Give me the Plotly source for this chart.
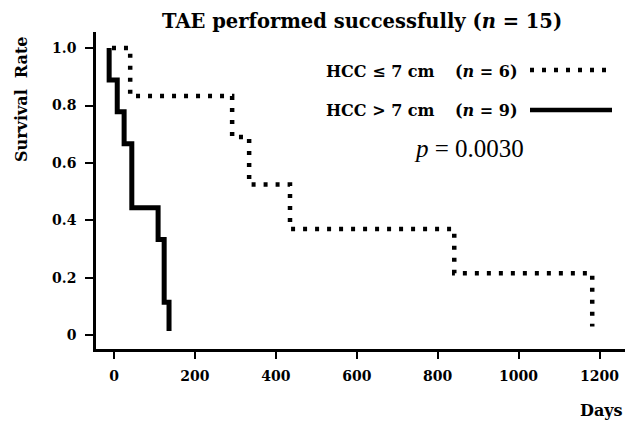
import plotly.graph_objects as go

# Kaplan-Meier step points (days, survival)
small_days = [-5, 40, 292, 334, 435, 841, 1182]
small_surv = [1.0, 0.833, 0.69, 0.525, 0.37, 0.216, 0.03]

large_days = [-12, -12, 8, 25, 44, 109, 124, 136]
large_surv = [1.0, 0.889, 0.778, 0.667, 0.444, 0.333, 0.115, 0.015]

x_ticks = [0, 200, 400, 600, 800, 1000, 1200]
y_ticks = [0, 0.2, 0.4, 0.6, 0.8, 1.0]
y_ticklabels = ["0", "0.2", "0.4", "0.6", "0.8", "1.0"]

W, H = 628, 422
L, R, T, B = 96, 3, 32, 73
PW, PH = W - L - R, H - T - B

def px(x):
    return (x - L) / PW

def py(y):
    return (H - B - y) / PH

FONT = "DejaVu Serif"
PFONT = "Liberation Serif"
DOT = "4px,8px"

fig = go.Figure()
fig.add_trace(go.Scatter(x=small_days, y=small_surv, mode="lines", line_shape="hv",
                         line=dict(color="black", width=4.5, dash=DOT), showlegend=False))
fig.add_trace(go.Scatter(x=large_days, y=large_surv, mode="lines", line_shape="hv",
                         line=dict(color="black", width=5), showlegend=False))

fig.update_layout(
    width=W, height=H,
    margin=dict(l=L, r=R, t=T, b=B, autoexpand=False),
    plot_bgcolor="white", paper_bgcolor="white",
    font=dict(family=FONT, color="black"),
    xaxis=dict(range=[-44.5, 1263], showgrid=False, zeroline=False, showline=True,
               linecolor="black", linewidth=2.5, ticks="outside", ticklen=7, tickwidth=2,
               tickcolor="black", tickvals=x_ticks, ticklabelstandoff=5,
               tickfont=dict(family=FONT, size=14, color="black", weight="bold")),
    yaxis=dict(range=[-0.048, 1.056], showgrid=False, zeroline=False, showline=True,
               linecolor="black", linewidth=2.5, ticks="outside", ticklen=8, tickwidth=2,
               tickcolor="black", tickvals=y_ticks, ticktext=y_ticklabels,
               ticklabelstandoff=6,
               tickfont=dict(family=FONT, size=14, color="black", weight="bold")),
)

ann = [
    dict(text="TAE performed successfully (<i>n</i> = 15)", x=px(362), y=py(22), size=19.5, weight="bold", fam=FONT),
    dict(text="HCC ≤ 7 cm", x=px(380), y=py(71), size=16, weight="bold", fam=FONT),
    dict(text="(<i>n</i> = 6)", x=px(486), y=py(71), size=16, weight="bold", fam=FONT),
    dict(text="HCC > 7 cm", x=px(380), y=py(110), size=16, weight="bold", fam=FONT),
    dict(text="(<i>n</i> = 9)", x=px(486), y=py(110), size=16, weight="bold", fam=FONT),
    dict(text="<i>p</i> = 0.0030", x=px(469), y=py(148), size=25, weight="normal", fam=PFONT),
    dict(text="Days", x=px(601), y=py(410), size=16, weight="bold", fam=FONT),
]
for a in ann:
    fig.add_annotation(text=a["text"], x=a["x"], y=a["y"], xref="paper", yref="paper",
                       xanchor="center", yanchor="middle", showarrow=False,
                       font=dict(family=a["fam"], size=a["size"], color="black", weight=a["weight"]))
fig.add_annotation(text="Survival  Rate", x=px(21), y=py(100), xref="paper", yref="paper",
                   xanchor="center", yanchor="middle", showarrow=False, textangle=-90,
                   font=dict(family=FONT, size=16, color="black", weight="bold"))

fig.add_shape(type="line", xref="paper", yref="paper", x0=px(530), x1=px(612), y0=py(70), y1=py(70),
              line=dict(color="black", width=4.5, dash=DOT))
fig.add_shape(type="line", xref="paper", yref="paper", x0=px(530), x1=px(612), y0=py(110), y1=py(110),
              line=dict(color="black", width=4.5))

fig.write_html("out.html", config={"displayModeBar": False},
               post_script="document.body.style.margin='0';document.body.style.padding='0';")
